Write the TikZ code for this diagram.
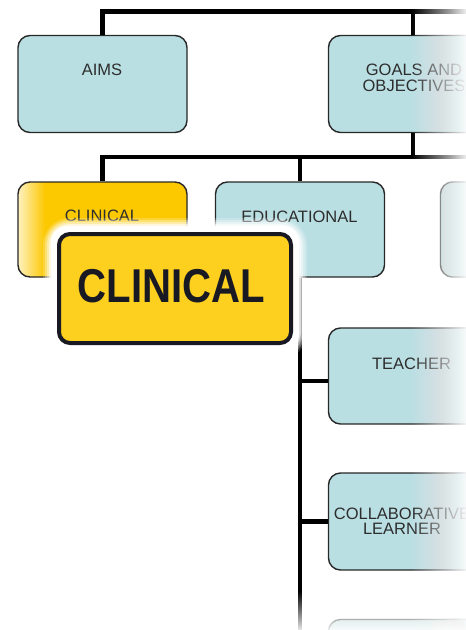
\documentclass[tikz,border=0pt]{standalone}
\usepackage{fontspec}
\setmainfont{Liberation Sans}

\definecolor{boxBlue}{RGB}{186,223,227}
\definecolor{boxEdge}{RGB}{40,40,40}
\definecolor{clinY}{RGB}{252,200,0}
\definecolor{bigY}{RGB}{253,207,30}
\definecolor{bigEdge}{RGB}{25,25,35}
\definecolor{lblGray}{RGB}{45,45,45}

% pale left edge of the small yellow box
\pgfdeclarehorizontalshading{clinfade}{100bp}{%
  color(0bp)=(white!75!clinY); color(25bp)=(white!75!clinY);
  color(33bp)=(clinY); color(100bp)=(clinY)}

\begin{document}
\begin{tikzpicture}[x=1pt,y=-1pt,
  box/.style={draw=boxEdge, line width=1.4pt, rounded corners=12pt,
    minimum width=169pt, minimum height=97pt, inner sep=0pt, fill=boxBlue},
  conn/.style={draw=black, line width=4.5pt},
  lbl/.style={text=lblGray, font=\fontsize{16.5}{15.7}\selectfont,
    inner sep=0pt, align=center},
]
\useasboundingbox (0,0) rectangle (466,630);
\clip (0,0) rectangle (466,630);

% boxes
\node[box] (aims)   at (102.5,84)    {};
\node[box] (goals)  at (413,84)      {};
\node[box, shade, shading=clinfade, minimum height=95pt] (clin) at (102.5,229.5) {};
\node[box, minimum height=95pt] (edu)   at (300,229.5)   {};
\node[box, minimum height=95pt] (third) at (525,229.5)   {};
\node[box, minimum height=96pt] (teach) at (413,376)     {};
\node[box] (collab) at (413,521.5)   {};
\node[box] (last)   at (413,668)     {};

% box captions
\node[lbl, anchor=base] (aimsT) at (102,75) {AIMS};
\node[lbl, anchor=north] (goalsT) at (414,64) {GOALS AND\\OBJECTIVES};
\node[lbl, anchor=base] (clinT) at (102,221) {CLINICAL};
\node[lbl, anchor=base] (eduT) at (299.5,222) {EDUCATIONAL};
\node[lbl, anchor=base] (teachT) at (411.5,369) {TEACHER};
\node[lbl, anchor=north] (collabT) at (402,507.5) {COLLABORATIVE\\LEARNER};

% connectors
\coordinate (topR) at (480,11.5);
\coordinate (midR) at (480,157);
\coordinate (spineEnd) at (300,650);
\draw[conn] (aims.north) |- (topR);
\draw[conn] (goals.north) -- (goals.north |- topR);
\draw[conn] (goals.south) -- (goals.south |- midR);
\draw[conn] (clin.north) |- (midR);
\draw[conn] (edu.north) -- (edu.north |- midR);
\draw[conn] (third.north) -- (third.north |- midR);
\draw[conn] (edu.south) -- (edu.south |- spineEnd);
\draw[conn] ([yshift=-5pt]teach.west) -- ([yshift=-5pt]teach.west -| edu.south);
\draw[conn] (collab.west) -- (collab.west -| edu.south);

% highlighted box with its white halo
\coordinate (bigNW) at (57,232);
\coordinate (bigSE) at (293,345);
\foreach \g/\o in {14/0.2,12/0.3,10/0.4,8/0.6}
  \fill[white, opacity=\o, rounded corners=13pt+\g pt]
    ([xshift=-\g pt, yshift=\g pt]bigNW) rectangle ([xshift=\g pt, yshift=-\g pt]bigSE);
\fill[white, rounded corners=16pt]
  ([xshift=-6pt, yshift=6pt]bigNW) rectangle ([xshift=6pt, yshift=-6pt]bigSE);
\node[draw=bigEdge, line width=4pt, fill=bigY, rounded corners=11pt,
  minimum width=232pt, minimum height=109pt, inner sep=0pt] (big) at (175,288.5) {};
\node[anchor=base, inner sep=0pt, text=bigEdge,
  font=\fontsize{47.5}{50}\selectfont\bfseries] (bigT) at (171.5,302)
  {\scalebox{0.845}[1]{CLINICAL}};

% wash-out towards the right edge: nested white layers, linear ramp 412 -> 470
\foreach \k [evaluate=\k as \a using 1/(59-\k)] in {1,...,58}
  \fill[white, opacity=\a] (411+\k,-2) rectangle (472,632);
% wash-out towards the bottom edge: linear ramp 592 -> 634
\foreach \k [evaluate=\k as \a using 1/(43-\k)] in {1,...,42}
  \fill[white, opacity=\a] (-2,591+\k) rectangle (472,636);
\end{tikzpicture}
\end{document}
